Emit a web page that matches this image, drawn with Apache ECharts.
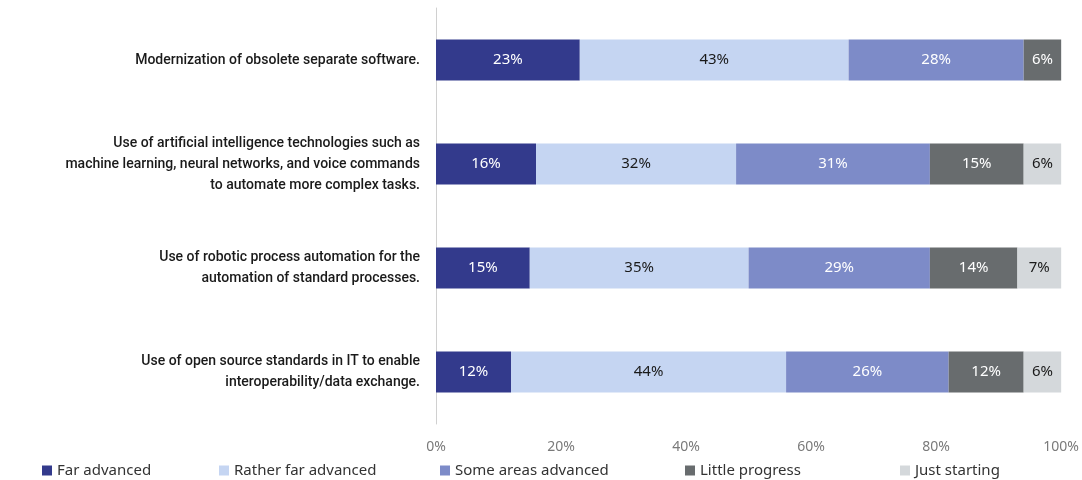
<!DOCTYPE html>
<html><head><meta charset="utf-8">
<script src="https://cdn.jsdelivr.net/npm/echarts@6/dist/echarts.min.js"></script>
<style>html,body{margin:0;padding:0;background:#fff}#c{width:1082px;height:480px}</style>
</head><body><div id="c"></div>
<script>
const categories = [
  "Modernization of obsolete separate software.",
  "Use of artificial intelligence technologies such as\nmachine learning, neural networks, and voice commands\nto automate more complex tasks.",
  "Use of robotic process automation for the\nautomation of standard processes.",
  "Use of open source standards in IT to enable\ninteroperability/data exchange."
];
const seriesNames = ["Far advanced","Rather far advanced","Some areas advanced","Little progress","Just starting"];
const farAdvanced = [23,16,15,12];
const ratherFarAdvanced = [43,32,35,44];
const someAreasAdvanced = [28,31,29,26];
const littleProgress = [6,15,14,12];
const justStarting = [0,6,7,6];
const xTicks = [0,20,40,60,80,100];

const values = [farAdvanced, ratherFarAdvanced, someAreasAdvanced, littleProgress, justStarting];
const colors = ["#333a8c","#c5d5f2","#7d8bc8","#686c6e","#d4d8db"];
const labelColors = ["#fff","#1a1a1a","#fff","#fff","#1a1a1a"];
const legendLeft = [37,214,435,680,895];
const FONT = "Noto Sans";

const chart = echarts.init(document.getElementById('c'), null, {renderer:'canvas'});
chart.setOption({
  animation:false,
  textStyle:{fontFamily:FONT},
  grid:{left:436,right:20,top:8,height:416,containLabel:false},
  xAxis:{type:'value',min:xTicks[0],max:xTicks[xTicks.length-1],interval:20,
    axisLine:{show:false},axisTick:{show:false},splitLine:{show:false},
    axisLabel:{formatter:'{value}%',color:'#7a7a7a',fontSize:14,margin:16,fontFamily:FONT}},
  yAxis:{type:'category',inverse:true,data:categories,
    axisLine:{show:true,lineStyle:{color:'#d0d0d0',width:1}},axisTick:{show:false},
    axisLabel:{color:'#1a1a1a',fontSize:14,fontWeight:500,lineHeight:21,margin:16,align:'right',fontFamily:'Roboto'}},
  legend: seriesNames.map((n,i)=>({data:[n],left:legendLeft[i],top:458,itemWidth:10,itemHeight:10,icon:'rect',
    textStyle:{color:'#333',fontSize:15,fontFamily:FONT},itemGap:0})),
  series: seriesNames.map((n,i)=>({name:n,type:'bar',stack:'total',barWidth:41,
    data:values[i],itemStyle:{color:colors[i]},
    label:{show:true,position:'inside',color:labelColors[i],fontSize:15,fontFamily:FONT,
      formatter:p=>p.value>0?p.value+'%':''}}))
});
</script></body></html>
